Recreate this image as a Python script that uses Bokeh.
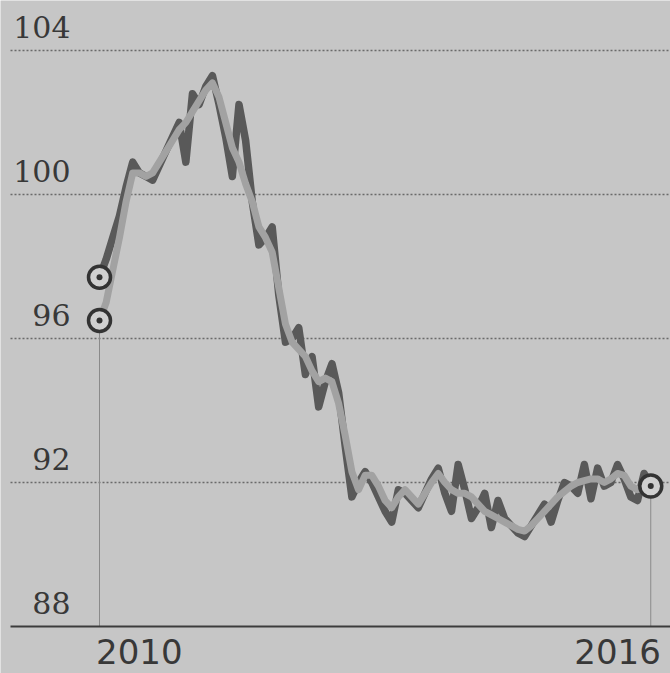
from bokeh.plotting import figure
from bokeh.models import Range1d
from bokeh.core.properties import value
from bokeh.embed import file_html
from bokeh.resources import INLINE

# ---- data (monthly, Jan 2010 .. Dec 2016) ----
start_year = 2010
dark_series = [97.7, 98.2, 98.8, 99.4, 100.2, 100.9, 100.6, 100.5, 100.4, 100.8,
               101.2, 101.6, 102.0, 100.9, 102.8, 102.5, 103.0, 103.3, 102.5, 101.6,
               100.5, 102.5, 101.5, 99.8, 98.6, 98.8, 99.1, 97.2, 95.9, 96.0,
               96.3, 95.0, 95.5, 94.1, 94.8, 95.3, 94.5, 93.0, 91.6, 92.0,
               92.3, 92.0, 91.6, 91.2, 90.9, 91.8, 91.7, 91.5, 91.3, 91.7,
               92.1, 92.4, 91.7, 91.2, 92.5, 91.8, 91.0, 91.3, 91.7, 90.75,
               91.5, 91.0, 90.8, 90.6, 90.5, 90.8, 91.1, 91.4, 90.9, 91.5,
               92.0, 91.9, 91.7, 92.5, 91.55, 92.4, 91.9, 92.0, 92.5, 92.1,
               91.6, 91.5, 92.25, 91.9]
light_series = [96.5, 97.0, 97.9, 98.8, 99.8, 100.6, 100.6, 100.5, 100.6, 100.9,
                101.2, 101.5, 101.8, 102.0, 102.3, 102.6, 102.9, 103.1, 102.7, 102.0,
                101.3, 100.9, 100.3, 99.8, 99.1, 98.8, 98.4, 97.4, 96.4, 95.9,
                95.7, 95.5, 95.1, 94.8, 94.9, 94.8, 94.2, 93.3, 92.3, 91.8,
                92.2, 92.2, 91.9, 91.5, 91.3, 91.6, 91.8, 91.6, 91.4, 91.7,
                92.0, 92.25, 92.0, 91.8, 91.7, 91.7, 91.6, 91.4, 91.2, 91.1,
                91.0, 90.9, 90.8, 90.7, 90.65, 90.8, 91.0, 91.2, 91.4, 91.6,
                91.75, 91.9, 92.0, 92.05, 92.1, 92.1, 92.0, 92.1, 92.25, 92.2,
                91.9, 91.8, 91.85, 91.9]
grid_levels = [92, 96, 100, 104]
ytick_values = [88, 92, 96, 100, 104]
ytick_labels = ["88", "92", "96", "100", "104"]
xtick_years = [2010, 2016]
xtick_labels = ["2010", "2016"]
y_base = 88

# ---- layout constants ----
W, H = 670, 673
X0_PX, Y0_PX = 99, 626      # pixel of (2010, 88)
PX_YEAR = 79.7
PX_UNIT = 36.0
BG = "#c6c6c6"
TXT = "#383838"

xs = [start_year + m / 12 for m in range(len(dark_series))]

p = figure(width=W, height=H, output_backend="svg", toolbar_location=None,
           x_range=Range1d(2010 - X0_PX / PX_YEAR, 2010 + (W - X0_PX) / PX_YEAR),
           y_range=Range1d(y_base - (H - Y0_PX) / PX_UNIT, y_base + Y0_PX / PX_UNIT),
           min_border=0, background_fill_color=BG, border_fill_color=BG)
p.axis.visible = False
p.grid.visible = False
p.outline_line_color = None

x_left = 2010 - 89 / PX_YEAR
x_right = 2010 + 580 / PX_YEAR

# dotted gridlines
p.segment(x0=[x_left] * len(grid_levels), x1=[x_right] * len(grid_levels),
          y0=grid_levels, y1=grid_levels, line_color="#6a6a6a",
          line_width=1.4, line_dash="2 2")

# vertical thin lines at start / end
p.segment(x0=[xs[0], xs[-1]], x1=[xs[0], xs[-1]],
          y0=[light_series[0], dark_series[-1]], y1=[y_base, y_base],
          line_color="#8a8a8a", line_width=1)

# baseline
p.segment(x0=[x_left], x1=[x_right], y0=[y_base], y1=[y_base],
          line_color="#3c3c3c", line_width=2)

# series
p.line(xs, dark_series, line_color="#595959", line_width=7.5, line_join="round", line_cap="round")
p.line(xs, light_series, line_color="#a2a2a2", line_width=7, line_join="round", line_cap="round")

# circle markers
mx = [xs[0], xs[0], xs[-1]]
my = [dark_series[0], light_series[0], dark_series[-1]]
p.scatter(mx, my, size=22, line_width=3.5, line_color="#333333", fill_color="#d0d0d0")
p.scatter(mx, my, size=6, line_color=None, fill_color="#333333")

# y tick labels inside plot
p.text(x=[2010 - 29 / PX_YEAR] * len(ytick_values),
       y=[v + 35 / PX_UNIT for v in ytick_values], text=ytick_labels,
       text_align="right", text_baseline="top",
       text_font=value("DejaVu Serif"), text_font_size="30px", text_color=TXT)

# x tick labels
p.text(x=[yr + 0.5 for yr in xtick_years],
       y=[y_base - 12 / PX_UNIT] * len(xtick_years), text=xtick_labels,
       text_align="center", text_baseline="top",
       text_font=value("DejaVu Sans"), text_font_size="34px", text_color=TXT)

open("out.html", "w").write(file_html(p, INLINE))
